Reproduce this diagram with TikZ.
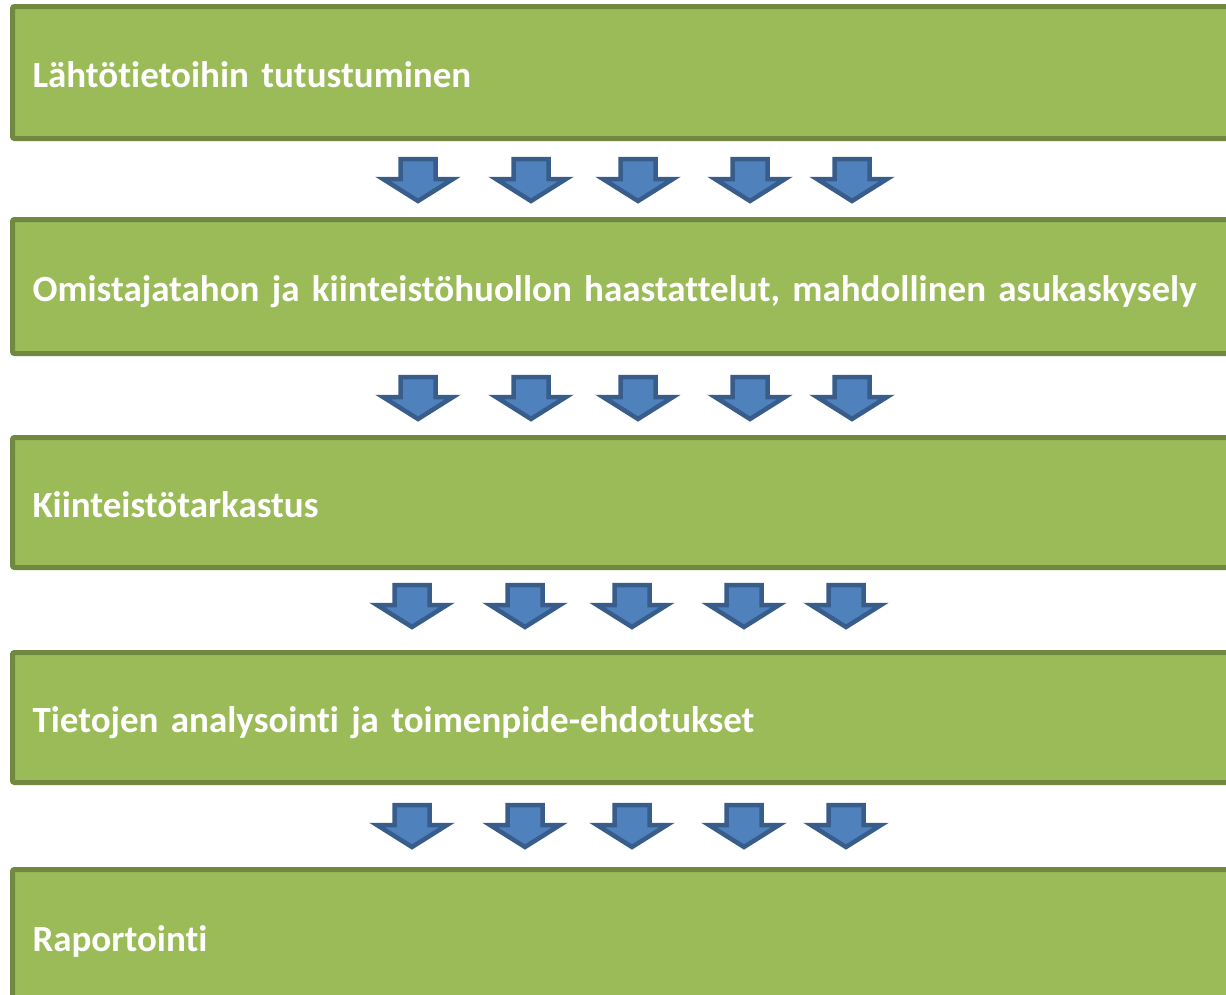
\documentclass[tikz,border=0pt]{standalone}
\usepackage{fontspec}
\setmainfont{Carlito}[Ligatures=NoCommon]

\definecolor{boxgreen}{HTML}{9BBB59}
\definecolor{boxedge}{HTML}{71893F}
\definecolor{arrblue}{HTML}{4F81BD}
\definecolor{arredge}{HTML}{385D8A}

\tikzset{
  stage/.style={draw=boxedge, fill=boxgreen, line width=5pt, rounded corners=2pt,
    anchor=north west, outer sep=0pt, inner xsep=20pt, inner ysep=0pt,
    minimum width=1300pt, text width=1260pt, align=left,
    text height=30pt, text depth=0pt, text=white,
    font=\fontsize{37}{41}\selectfont\bfseries},
  downarr/.pic={
    \draw[draw=arredge, fill=arrblue, line width=4.5pt, line join=miter]
      (-17.5,0) -- (17.5,0) -- (17.5,20) -- (35,20) -- (0,42)
      -- (-35,20) -- (-17.5,20) -- cycle;
  }
}

\begin{document}
\begin{tikzpicture}[x=1pt, y=-1pt]
  \useasboundingbox (0,0) rectangle (1226,994);
  \clip (0,0) rectangle (1226,994);

  \node[stage, minimum height=132pt] at (12.5, 6.5) (lahto) {Lähtötietoihin tutustuminen};
  \node[stage, minimum height=134pt] at (12.5, 219.5) (haast) {Omistajatahon ja kiinteistöhuollon haastattelut, mahdollinen asukaskysely};
  \node[stage, minimum height=130pt] at (12.5, 437.5) (tarkastus) {Kiinteistötarkastus};
  \node[stage, minimum height=130pt] at (12.5, 652.5) (analyysi) {Tietojen analysointi ja toimenpide-ehdotukset};
  \node[stage, minimum height=133pt] at (12.5, 869.5) (raportti) {Raportointi};

  \foreach \x in {418, 531, 638, 750, 852} {
    \pic at (\x, 159) {downarr};
    \pic at (\x, 377) {downarr};
  }
  \foreach \x in {412, 525, 632, 744, 846} {
    \pic at (\x, 585) {downarr};
    \pic at (\x, 805) {downarr};
  }
\end{tikzpicture}
\end{document}
